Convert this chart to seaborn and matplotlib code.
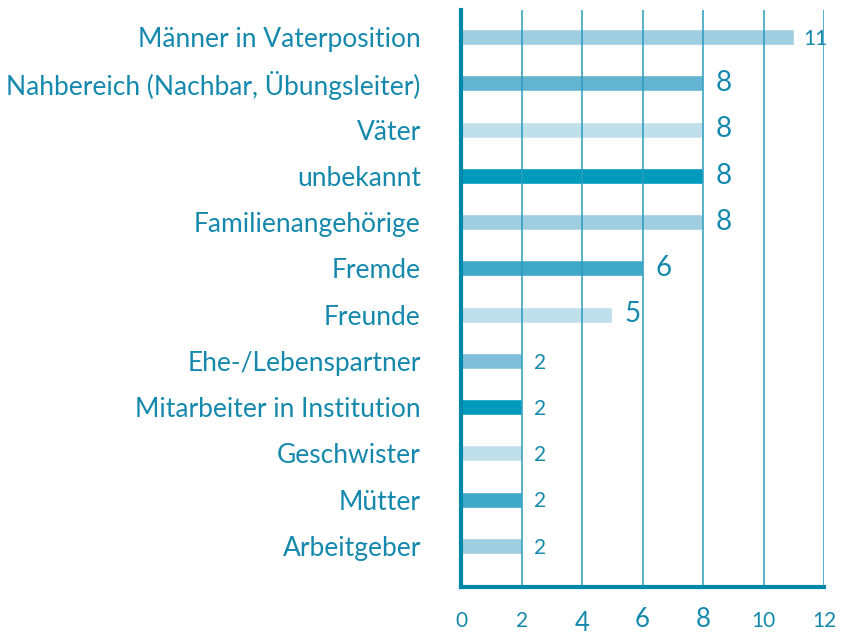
import matplotlib
matplotlib.use("Agg")
import matplotlib.pyplot as plt
import matplotlib.transforms as mtransforms
import seaborn as sns
import pandas as pd

categories = ["Männer in Vaterposition", "Nahbereich (Nachbar, Übungsleiter)", "Väter",
              "unbekannt", "Familienangehörige", "Fremde", "Freunde",
              "Ehe-/Lebenspartner", "Mitarbeiter in Institution", "Geschwister",
              "Mütter", "Arbeitgeber"]
values = [11, 8, 8, 8, 8, 6, 5, 2, 2, 2, 2, 2]
bar_colors = ["#a0cee1", "#62b4d1", "#bfdfeb", "#009abd", "#a0cee1", "#40a9c8",
              "#bfdfeb", "#80bfd9", "#009abd", "#bfdfeb", "#40a9c8", "#a0cee1"]
x_ticks = [0, 2, 4, 6, 8, 10, 12]

TEXT = "#1589ad"
AXIS = "#0088aa"
GRID = "#2a9bbf"

sns.set_theme(style="white")
plt.rcParams["font.family"] = ["Lato", "DejaVu Sans"]

df = pd.DataFrame({"cat": categories, "val": values})
fig = plt.figure(figsize=(8.43, 6.36), dpi=100)
ax = fig.add_axes([0.547, 0.077, 0.4305, 0.907])

sns.barplot(data=df, x="val", y="cat", hue="cat", palette=bar_colors,
            orient="h", width=0.345, legend=False, ax=ax, zorder=1,
            saturation=1)

ax.set_xlim(0, 12)
ax.set_ylim(len(categories) - 1 + 0.89, -0.58)
ax.set_xlabel("")
ax.set_ylabel("")

for g in x_ticks[1:]:
    ax.axvline(g, color=GRID, lw=1.1, zorder=3)

for s in ["top", "right"]:
    ax.spines[s].set_visible(False)
for s in ["left", "bottom"]:
    ax.spines[s].set_color(AXIS)
    ax.spines[s].set_linewidth(3)
    ax.spines[s].set_zorder(4)

ax.tick_params(axis="y", length=0, pad=29, labelsize=19, labelcolor=TEXT)
ax.set_xticks(x_ticks)
ax.set_xticklabels([str(t) for t in x_ticks])
ax.tick_params(axis="x", length=0, pad=29, labelcolor=TEXT)
big = {"4": 18.5, "6": 18.5, "8": 18.5}
for lab in ax.get_xticklabels():
    t = lab.get_text()
    lab.set_verticalalignment("baseline")
    lab.set_fontsize(big.get(t, 15))
    if t == "4":
        lab.set_transform(lab.get_transform() +
                          mtransforms.ScaledTranslation(0, -2.5 / 72, fig.dpi_scale_trans))

for i, v in enumerate(values):
    fs = 20 if v in (8, 6, 5) else 15
    dx = 7 if v == 11 else 9
    ax.annotate(str(v), xy=(v, i + 0.17), xytext=(dx, 0),
                textcoords="offset points", va="baseline", ha="left",
                fontsize=fs, color=TEXT)

fig.savefig("out.png", dpi=100)
